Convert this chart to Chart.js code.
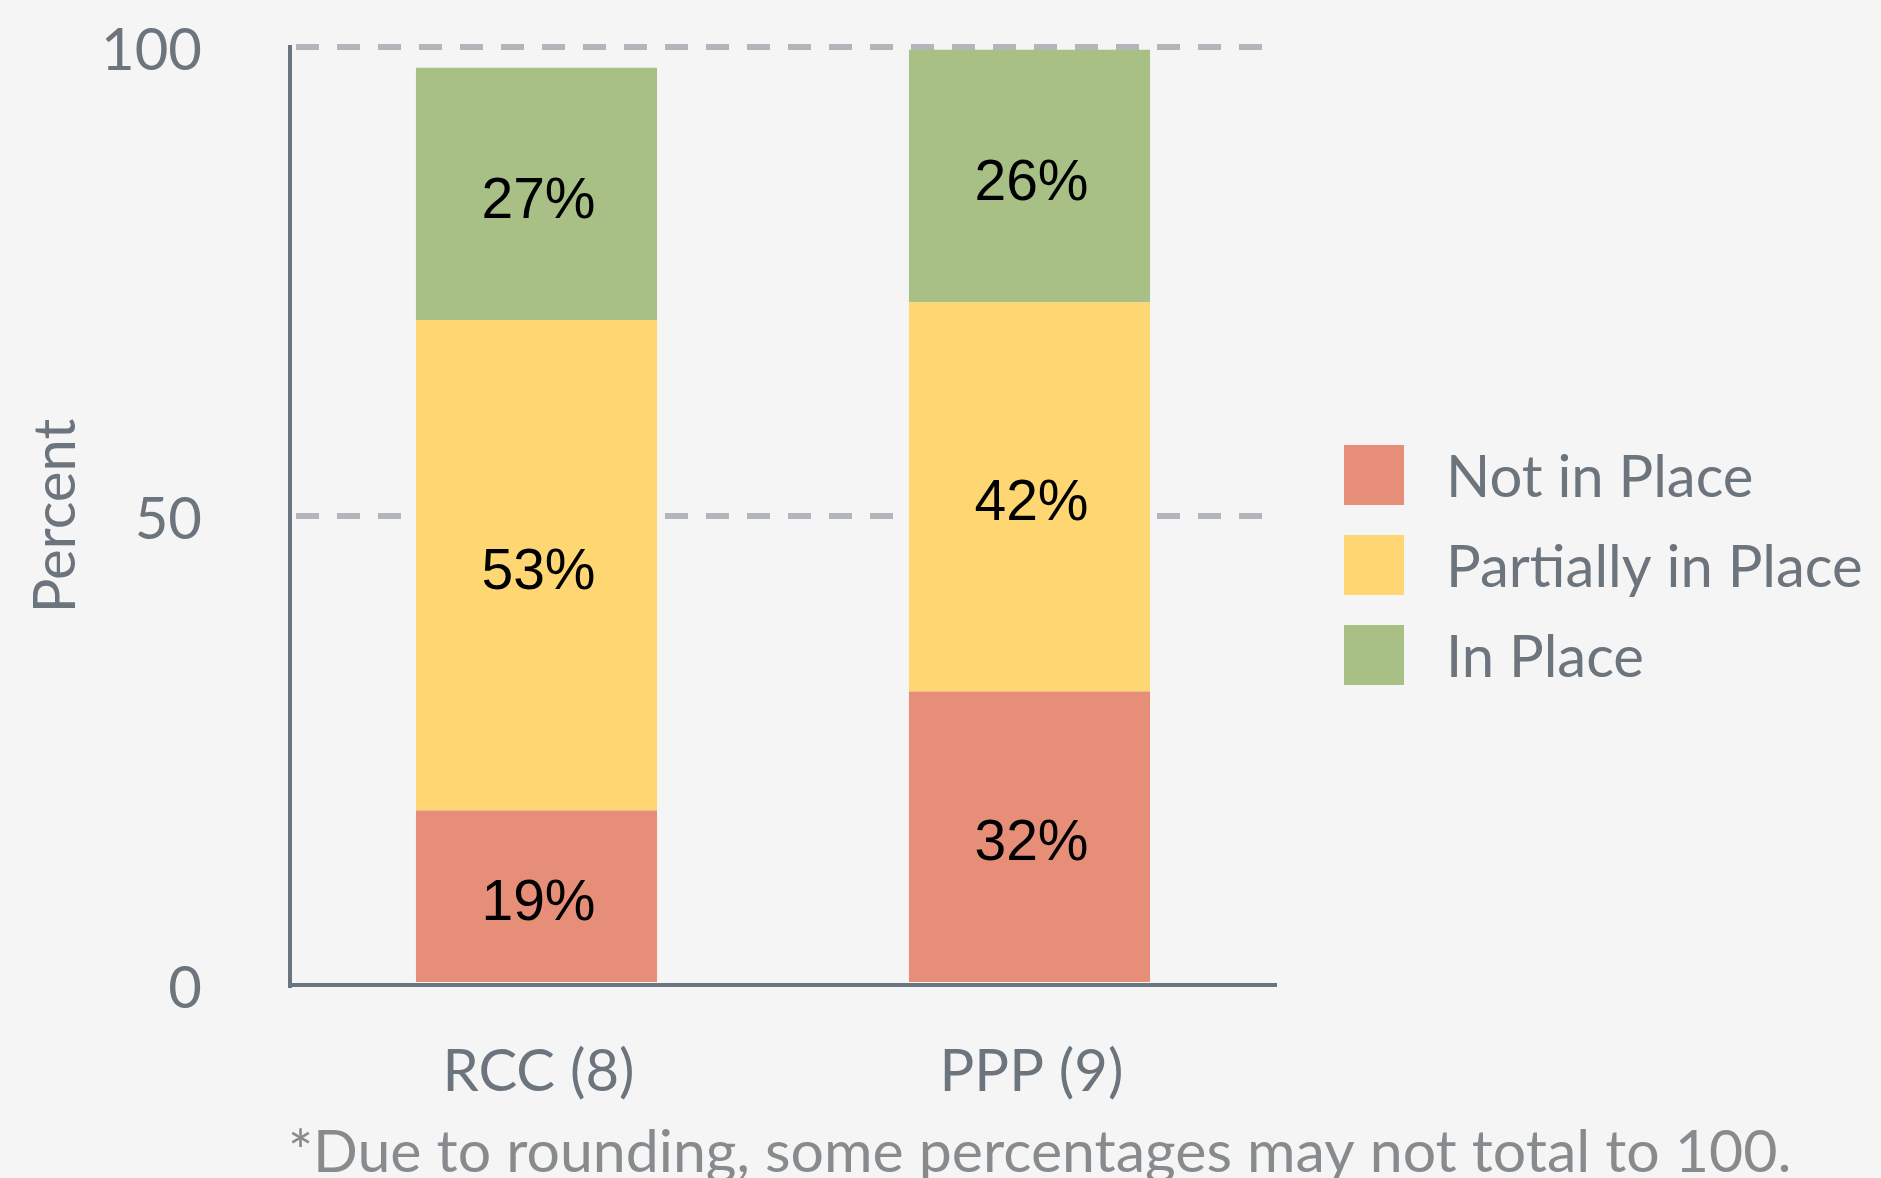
<!DOCTYPE html>
<html>
<head>
<meta charset="utf-8">
<script src="https://cdn.jsdelivr.net/npm/chart.js@4"></script>
<style>
  html, body { margin: 0; padding: 0; background: #f5f5f5; }
  #wrap { width: 1881px; height: 1178px; position: relative; }
</style>
</head>
<body>
<div id="wrap"><canvas id="placeChart"></canvas></div>
<script>
// categories and stacked values (percent)
const categories = ['RCC (8)', 'PPP (9)'];
const notInPlace = [18.6, 31.3];
const partiallyInPlace = [52.3, 41.5];
const inPlace = [26.9, 26.9];

// printed labels inside the bars
const notInPlaceLabels = ['19%', '32%'];
const partiallyLabels = ['53%', '42%'];
const inPlaceLabels = ['27%', '26%'];

const yTicks = [0, 50, 100];
const footnote = '*Due to rounding, some percentages may not total to 100.';

const textGrey = '#6c757d';
const axisGrey = '#6b7580';

// draws the percentage text in the middle of each segment
const segmentLabels = {
    id: 'segmentLabels',
    afterDatasetsDraw(chart) {
        const ctx = chart.ctx;
        ctx.save();
        ctx.font = '57px "Liberation Sans", Arial, sans-serif';
        ctx.fillStyle = '#000';
        ctx.textAlign = 'center';
        ctx.textBaseline = 'middle';
        chart.data.datasets.forEach((ds, i) => {
            const meta = chart.getDatasetMeta(i);
            meta.data.forEach((bar, j) => {
                const { x, y, base } = bar.getProps(['x', 'y', 'base'], true);
                ctx.fillText(ds.valueLabels[j], x + 2, (y + base) / 2 + 8);
            });
        });
        ctx.restore();
    }
};

// legend on the right and footnote under the axis
const sideLegend = {
    id: 'sideLegend',
    afterDraw(chart) {
        const ctx = chart.ctx;
        const area = chart.chartArea;
        ctx.save();
        ctx.font = '58px Lato, sans-serif';
        ctx.textBaseline = 'middle';
        ctx.textAlign = 'left';
        const boxX = area.right + 68;
        let top = area.top + 398;
        chart.data.datasets.forEach(ds => {
            ctx.fillStyle = ds.backgroundColor;
            ctx.fillRect(boxX, top, 60, 60);
            ctx.fillStyle = textGrey;
            ctx.fillText(ds.label, boxX + 102, top + 33);
            top += 90;
        });

        ctx.font = '59px Lato, sans-serif';
        ctx.fillStyle = '#888b8d';
        ctx.textBaseline = 'alphabetic';
        ctx.fillText(footnote, area.left - 2, 1172);
        ctx.restore();
    }
};

const ctx = document.getElementById('placeChart').getContext('2d');
new Chart(ctx, {
    type: 'bar',
    data: {
        labels: categories,
        datasets: [
            {
                label: 'Not in Place',
                data: notInPlace,
                valueLabels: notInPlaceLabels,
                backgroundColor: '#e78e79'
            },
            {
                label: 'Partially in Place',
                data: partiallyInPlace,
                valueLabels: partiallyLabels,
                backgroundColor: '#ffd772'
            },
            {
                label: 'In Place',
                data: inPlace,
                valueLabels: inPlaceLabels,
                backgroundColor: '#a8c085'
            }
        ]
    },
    options: {
        responsive: true,
        maintainAspectRatio: false,
        animation: false,
        layout: {
            padding: { top: 47, right: 605, bottom: 0, left: 0 }
        },
        datasets: {
            bar: {
                barPercentage: 0.489,
                categoryPercentage: 1,
                borderWidth: 0
            }
        },
        scales: {
            x: {
                stacked: true,
                afterFit(scale) { scale.height = 193; },
                grid: { display: false },
                border: { display: true, color: axisGrey, width: 4 },
                ticks: {
                    color: textGrey,
                    padding: 44,
                    labelOffset: 2,
                    maxRotation: 0,
                    font: { family: 'Lato', size: 58 }
                }
            },
            y: {
                stacked: true,
                min: 0,
                max: 100,
                afterFit(scale) {
                    scale.width = 290;
                    // tick padding would otherwise push the plot down
                    scale.paddingTop = 30;
                    scale.paddingBottom = 30;
                },
                afterBuildTicks(scale) {
                    scale.ticks = yTicks.map(v => ({ value: v }));
                },
                grid: {
                    drawTicks: false,
                    lineWidth: 6,
                    color: c => (c.tick && c.tick.value === 0) ? 'rgba(0,0,0,0)' : '#b2b6bb'
                },
                border: { display: true, color: axisGrey, width: 4, dash: [23, 18], dashOffset: -4 },
                ticks: {
                    color: textGrey,
                    padding: 88,
                    labelOffset: 4,
                    font: { family: 'Lato', size: 58 }
                },
                title: {
                    display: true,
                    text: 'Percent',
                    color: textGrey,
                    padding: { top: 21, bottom: 0 },
                    font: { family: 'Lato', size: 58 }
                }
            }
        },
        plugins: {
            legend: { display: false },
            tooltip: { enabled: false }
        }
    },
    plugins: [segmentLabels, sideLegend]
});
</script>
</body>
</html>
